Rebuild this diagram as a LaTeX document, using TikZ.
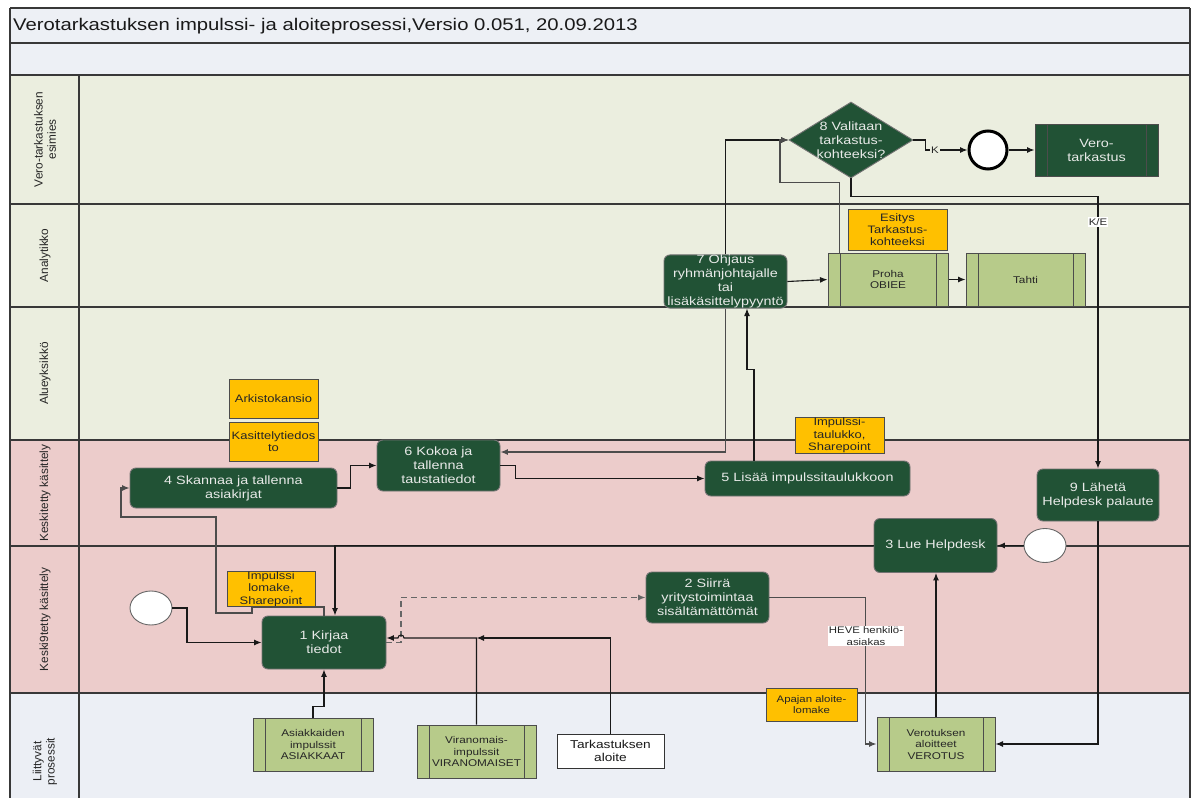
\documentclass[tikz,border=0pt]{standalone}
\usepackage{fontspec}
\setmainfont[FakeStretch=1.2]{Liberation Sans}
\newfontfamily\lanefont{Liberation Sans}
\usetikzlibrary{shapes.geometric,arrows.meta,calc}

\definecolor{headBg}{HTML}{EDF0F5}
\definecolor{laneGreen}{HTML}{EBEEDF}
\definecolor{lanePink}{HTML}{ECCCCB}
\definecolor{laneBlue}{HTML}{ECEFF5}
\definecolor{taskGreen}{HTML}{215235}
\definecolor{taskText}{HTML}{E8EAE8}
\definecolor{subGreen}{HTML}{B7CB8A}
\definecolor{dataOrange}{HTML}{FFC000}

\begin{document}
\begin{tikzpicture}[x=1pt,y=-1pt,
  laneline/.style={draw=black!78, line width=1.4pt},
  task/.style={rectangle, rounded corners=6pt, draw=black!55, line width=0.9pt,
    fill=taskGreen, text=taskText, font=\fontsize{12}{14}\selectfont,
    align=center, inner sep=2pt},
  tasktext/.style={text=taskText, font=\fontsize{12}{14}\selectfont,
    align=center, inner sep=0pt},
  subproc/.style={rectangle, draw=black!70, line width=1pt, fill=subGreen,
    text=black!85, align=center, font=\fontsize{9.8}{11.5}\selectfont, inner sep=1pt,
    path picture={\draw[black!70, line width=1pt]
      ([xshift=12pt]path picture bounding box.north west) --
      ([xshift=12pt]path picture bounding box.south west)
      ([xshift=-12pt]path picture bounding box.north east) --
      ([xshift=-12pt]path picture bounding box.south east);}},
  darksub/.style={subproc, fill=taskGreen, text=taskText,
    font=\fontsize{12}{14}\selectfont},
  dataobj/.style={rectangle, draw=black!70, line width=1pt, fill=dataOrange,
    text=black!85, font=\fontsize{10.8}{12.3}\selectfont, align=center, inner sep=0.5pt},
  plainbox/.style={rectangle, draw=black!80, line width=1pt, fill=white,
    text=black!90, font=\fontsize{11.4}{13.5}\selectfont, align=center, inner sep=1pt},
  startev/.style={ellipse, draw=black!60, line width=0.9pt, fill=white,
    minimum width=42pt, minimum height=34pt, inner sep=0pt},
  endev/.style={circle, draw=black, line width=3pt, fill=white,
    minimum size=38pt, inner sep=0pt},
  lanelabel/.style={rotate=90, align=center, text=black!85,
    font=\lanefont\fontsize{11.8}{13.2}\selectfont},
  flow/.style={draw=black!90, line width=1.1pt, -{Latex[length=7.5pt,width=6pt]}},
  softflow/.style={flow, draw=black!70},
  dashflow/.style={flow, draw=black!60, dash pattern=on 6pt off 4pt, line width=1.3pt},
  edgelabel/.style={fill=white, text=black!85, font=\fontsize{9.5}{11.3}\selectfont,
    align=center, inner sep=1.2pt}
]
\useasboundingbox (0,0) rectangle (1195,798);
\clip (0,0) rectangle (1195,798);

% ---------- background: header rows and swimlanes ----------
\fill[white] (0,0) rectangle (1195,798);
\fill[headBg] (10,8) rectangle (1190,75);
\fill[laneGreen] (10,75) rectangle (1190,440);
\fill[lanePink] (10,440) rectangle (1190,693);
\fill[laneBlue] (10,693) rectangle (1190,830);

\foreach \yy in {8,43,75,204,307,440,546,693}
  \draw[laneline] (10,\yy) -- (1190,\yy);
\draw[laneline] (10,8) -- (10,830);
\draw[laneline] (1190,8) -- (1190,830);
\draw[laneline] (79,75) -- (79,830);

\node[anchor=west, text=black!90, font=\fontsize{16.9}{19}\selectfont, inner sep=0pt]
  (title) at (13,26) {Verotarkastuksen impulssi- ja aloiteprosessi,Versio 0.051, 20.09.2013};

\node[lanelabel] (lane1) at (45,139.5) {Vero-tarkastuksen\\esimies};
\node[lanelabel] (lane2) at (45,255.5) {Analytikko};
\node[lanelabel] (lane3) at (45,373.5) {Alueyksikkö};
\node[lanelabel] (lane4) at (45,493) {Keskitetty käsittely};
\node[lanelabel] (lane5) at (45,619.5) {Keski9tetty käsittely};
\node[lanelabel] (lane6) at (45,761.5) {Liittyvät\\prosessit};

% ---------- data objects ----------
\node[dataobj, minimum width=99pt, minimum height=41pt] (esitys) at (897.5,229.5) {Esitys\\Tarkastus-\\kohteeksi};
\node[dataobj, minimum width=89pt, minimum height=39pt] (arkisto) at (273.5,398.5) {Arkistokansio};
\node[dataobj, minimum width=89pt, minimum height=39pt] (kasittely) at (273.5,441.5) {Kasittelytiedos\\to};
\node[dataobj, minimum width=89pt, minimum height=35pt] (imptaul) at (839.5,435.5) {Impulssi-\\taulukko,\\Sharepoint};
\node[dataobj, minimum width=88pt, minimum height=34pt] (implom) at (271,589) {Impulssi\\lomake,\\Sharepoint};
\node[dataobj, minimum width=91pt, minimum height=33pt, font=\fontsize{9.5}{11.5}\selectfont] (apajan) at (811.5,704.5) {Apajan aloite-\\lomake};

% ---------- tasks ----------
\node[task, minimum width=124pt, minimum height=53pt] (n1) at (324,642.5) {1 Kirjaa\\tiedot};
\node[task, minimum width=123pt, minimum height=51pt] (n2) at (707.5,597.5) {2 Siirrä\\yritystoimintaa\\sisältämättömät};
\node[task, minimum width=123pt, minimum height=54pt] (n3) at (935.5,545.5) {3 Lue Helpdesk};
\node[task, minimum width=207pt, minimum height=40pt] (n4) at (233.5,488) {4 Skannaa ja tallenna\\asiakirjat};
\node[task, minimum width=205pt, minimum height=35pt] (n5) at (807.5,478.5) {5 Lisää impulssitaulukkoon};
\node[task, minimum width=123pt, minimum height=51pt] (n6) at (438.5,465.5) {6 Kokoa ja\\tallenna\\taustatiedot};
\node[task, minimum width=123pt, minimum height=53pt, inner sep=0pt] (n7) at (725.5,281.5) {7 Ohjaus\\ryhmänjohtajalle\\tai\\lisäkäsittelypyyntö};
\node[task, minimum width=122pt, minimum height=52pt] (n9) at (1098,495) {9 Lähetä\\Helpdesk palaute};

\node[diamond, draw=black!55, line width=0.9pt, fill=taskGreen,
  minimum width=124pt, minimum height=76pt, inner sep=0pt] (d8) at (851,140) {};
\node[tasktext] (d8t) at (d8.center) {8 Valitaan\\tarkastus-\\kohteeksi?};

% ---------- events ----------
\node[startev] (startL) at (151,608) {};
\node[startev] (startR) at (1045,545.5) {};
\node[endev] (endc) at (988,150) {};

% ---------- sub-processes ----------
\node[darksub, minimum width=123pt, minimum height=52pt] (vero) at (1096.5,150) {Vero-\\tarkastus};
\node[subproc, minimum width=120pt, minimum height=53pt] (proha) at (888,279.5) {Proha\\OBIEE};
\node[subproc, minimum width=119pt, minimum height=53pt] (tahti) at (1025.5,279.5) {Tahti};
\node[subproc, minimum width=120pt, minimum height=53pt] (asiak) at (313,744.5) {Asiakkaiden\\impulssit\\ASIAKKAAT};
\node[subproc, minimum width=119pt, minimum height=53pt] (viran) at (476.5,751.5) {Viranomais-\\impulssit\\VIRANOMAISET};
\node[subproc, minimum width=118pt, minimum height=54pt] (verot) at (936,744) {Verotuksen\\aloitteet\\VEROTUS};
\node[plainbox, minimum width=107pt, minimum height=34pt] (tark) at (610.5,751) {Tarkastuksen\\aloite};

% ---------- connectors ----------
\draw[flow] (startL.east) -| (187,642.5) -- (n1.west);
\draw[dashflow] (n1.east) -- (401,642.5) |- (n2.west);

\coordinate (vj) at (476.5,638);
\draw[flow] (tark.north) |- (vj);
\draw[flow] (viran.north) -- (vj) -- (404,638)
  arc[start angle=0, end angle=180, radius=3pt] -- (n1.east |- vj);

\draw[flow] (asiak.north) -- ++(0,-11) -| (n1.south);
\draw[softflow] (n1.north) -- (324,607) -- (252,607) -- (252,613) -- (216,613)
  -- (216,517) -- (121,517) |- (n4.west);

\draw[flow] (n3.west) -| ($(n1.north)+(11,0)$);
\draw[flow] (startR.west) -- (n3.east);
\draw[flow] (verot.north) -- (verot.north |- n3.south);
\draw[softflow] (n2.east) -| ($(verot.west)+(-11,0)$) -- (verot.west);
\node[edgelabel] (heve) at (866,636) {HEVE henkilö-\\asiakas};
\draw[flow] (n9.south) |- (verot.east);

\draw[flow] (d8.south) -- ++(0,18) -| (n9.north);
\node[edgelabel] (ke) at (1098,222) {K/E};
\draw[flow] (d8.east) -- ++(12,0) |- (endc.west);
\node[edgelabel, fill=laneGreen] (klab) at (935,150) {K};
\draw[flow] (endc.east) -- (vero.west);

\draw[flow] (n7.north) |- (d8.west);
\draw[softflow] ($(proha.north west)+(12,0)$) -- ++(0,-70) -| (780,140) -- (d8.west);
\draw[softflow] (n7.south) |- ($(n6.east)+(0,-13.5)$);
\draw[flow] ($(n5.north)+(-53.5,0)$) -- ++(0,-91) -| ($(n7.south)+(21.5,0)$);
\draw[flow] (n6.east) -- ++(15,0) |- (n5.west);
\draw[flow] (n4.east) -- ++(13,0) |- (n6.west);
\draw[flow] (n7.east) -- (proha.west);
\draw[flow] (proha.east) -- (tahti.west);
\end{tikzpicture}
\end{document}
